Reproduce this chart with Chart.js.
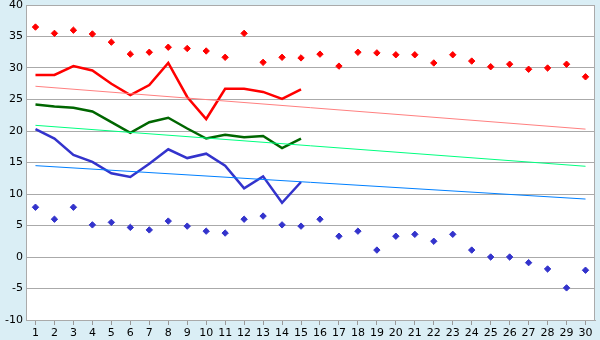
<!DOCTYPE html>
<html>
  <head>
    <meta charset='utf-8'>
    <title>Temperature chart</title>
    <style>
      body { margin: 0; background: #daeef5; }
      #wrap { width: 600px; height: 340px; }
    </style>
    <script src='https://cdn.jsdelivr.net/npm/chart.js@4.4.1/dist/chart.umd.min.js'></script>
  </head>
  <body>
    <div id='wrap'><canvas id='chart' width='600' height='340'></canvas></div>

    <script>
    var days = [];
    for (var d = 1; d <= 30; d++) days.push(String(d));

    // daily record highs / lows (points)
    var maxPoints = [36.5, 35.5, 36.0, 35.4, 34.1, 32.2, 32.5, 33.3, 33.1, 32.7,
                     31.7, 35.5, 30.9, 31.7, 31.6, 32.2, 30.3, 32.5, 32.4, 32.1,
                     32.1, 30.8, 32.1, 31.1, 30.2, 30.6, 29.8, 30.0, 30.6, 28.6];
    var minPoints = [7.9, 6.0, 7.9, 5.1, 5.5, 4.7, 4.3, 5.7, 4.9, 4.1,
                     3.8, 6.0, 6.5, 5.1, 4.9, 6.0, 3.3, 4.1, 1.1, 3.3,
                     3.6, 2.5, 3.6, 1.1, 0.0, 0.0, -0.9, -1.9, -4.9, -2.1];

    // current month (first 15 days)
    var highLine = [28.9, 28.9, 30.3, 29.6, 27.5, 25.7, 27.3, 30.8, 25.4, 21.9,
                    26.7, 26.7, 26.2, 25.1, 26.6];
    var meanLine = [24.2, 23.9, 23.7, 23.1, 21.4, 19.7, 21.4, 22.1, 20.4, 18.8,
                    19.4, 19.0, 19.2, 17.3, 18.8];
    var lowLine  = [20.3, 18.8, 16.2, 15.1, 13.3, 12.7, 14.8, 17.1, 15.7, 16.4,
                    14.5, 10.9, 12.8, 8.6, 11.9];

    // normal trend, value on day 1 and day 30
    var highTrend = [27.1, 20.3];
    var meanTrend = [20.9, 14.4];
    var lowTrend  = [14.5, 9.2];

    function ends(pair) {
      return [{ x: days[0], y: pair[0] }, { x: days[days.length - 1], y: pair[1] }];
    }

    var frame = {
      id: 'frame',
      afterDraw: function (chart) {
        var a = chart.chartArea, ctx = chart.ctx;
        ctx.save();
        ctx.strokeStyle = '#aaaaaa';
        ctx.lineWidth = 1;
        ctx.strokeRect(a.left + 0.5, a.top + 0.5, a.right - a.left - 1, a.bottom - a.top);
        ctx.restore();
      }
    };

    var plotBg = {
      id: 'plotBg',
      beforeDraw: function (chart) {
        var a = chart.chartArea, ctx = chart.ctx;
        ctx.save();
        ctx.fillStyle = '#daeef5';
        ctx.fillRect(0, 0, chart.width, chart.height);
        ctx.fillStyle = '#ffffff';
        ctx.fillRect(a.left, a.top, a.right - a.left, a.bottom - a.top);
        ctx.restore();
      }
    };

    function pts(data, color) {
      return {
        data: data, showLine: false, borderColor: color, backgroundColor: color,
        pointStyle: 'rectRot', pointRadius: 3.2, pointBorderWidth: 1, order: 1
      };
    }
    function line(data, color, width) {
      return {
        data: data, borderColor: color, backgroundColor: color, borderWidth: width,
        pointRadius: 0, tension: 0, fill: false, order: 2
      };
    }

    Chart.defaults.font.family = "'DejaVu Sans', Verdana, sans-serif";
    Chart.defaults.font.size = 11;
    Chart.defaults.color = '#000';

    new Chart(document.getElementById('chart'), {
      type: 'line',
      data: {
        labels: days,
        datasets: [
          line(ends(highTrend), '#ff8080', 1),
          line(ends(meanTrend), '#00ff80', 1),
          line(ends(lowTrend), '#0080ff', 1),
          line(highLine, '#ff0000', 2.5),
          line(meanLine, '#006600', 2.5),
          line(lowLine, '#3333cc', 2.5),
          pts(maxPoints, '#ff0000'),
          pts(minPoints, '#3333cc')
        ]
      },
      options: {
        responsive: false,
        animation: false,
        layout: { padding: { top: 5, right: 5, left: 0, bottom: 0 } },
        plugins: { legend: { display: false }, tooltip: { enabled: false } },
        scales: {
          x: {
            type: 'category',
            offset: true,
            grid: { offset: false, drawOnChartArea: false, drawTicks: true, tickLength: 5, color: '#999' },
            border: { color: '#aaa' },
            ticks: { autoSkip: false, maxRotation: 0, padding: 2 },
            afterFit: function (s) { s.height = 20; s.paddingLeft = 0; s.paddingRight = 0; }
          },
          y: {
            min: -10, max: 40,
            ticks: { stepSize: 5, padding: 3 },
            grid: { color: '#aaaaaa', drawTicks: false },
            border: { color: '#aaa' },
            afterFit: function (s) { s.width = 26; s.paddingTop = 0; s.paddingBottom = 0; }
          }
        }
      },
      plugins: [plotBg, frame]
    });
    </script>
  </body>
</html>
